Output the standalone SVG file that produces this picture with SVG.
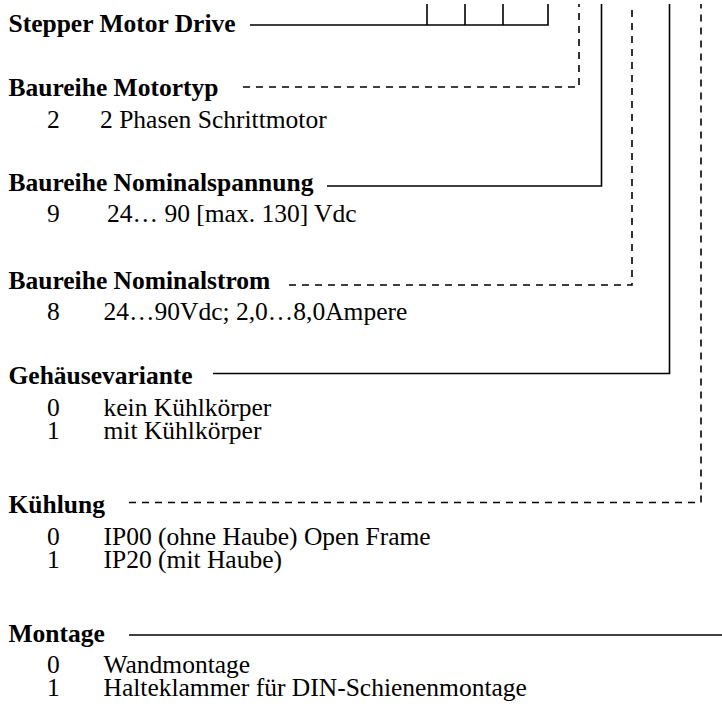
<svg xmlns="http://www.w3.org/2000/svg" width="722" height="709" viewBox="0 0 722 709">
<style>
text{font-family:"Liberation Serif","Times New Roman",serif;font-size:25.5px;fill:#000}
.h{font-weight:bold}
.s{fill:none;stroke:#000;stroke-width:1.6}
.d{fill:none;stroke:#000;stroke-width:1.6;stroke-dasharray:7 6}
</style>
<rect width="722" height="709" fill="#fff"/>
<g id="connectors">
<polyline class="s" points="250,25 548,25 548,4"/>
<line class="s" x1="427" y1="4" x2="427" y2="25"/>
<line class="s" x1="465" y1="4" x2="465" y2="25"/>
<line class="s" x1="503" y1="4" x2="503" y2="25"/>
<polyline class="d" points="243,87 579,87 579,4"/>
<polyline class="s" points="327,186 601.5,186 601.5,4"/>
<polyline class="d" points="289,285 632,285 632,4"/>
<polyline class="s" points="213,373.5 669.5,373.5 669.5,4"/>
<polyline class="d" points="129,502.5 701,502.5 701,4"/>
<line class="s" x1="129" y1="635" x2="722" y2="635"/>
</g>
<g id="stepper"><text class="h" x="8.5" y="32.3">Stepper Motor Drive</text></g>
<g id="motortyp">
<text class="h" x="8.5" y="95.7">Baureihe Motortyp</text>
<text x="47" y="127.7">2</text><text x="100" y="127.7">2 Phasen Schrittmotor</text>
</g>
<g id="nominalspannung">
<text class="h" x="8.5" y="190.7">Baureihe Nominalspannung</text>
<text x="47" y="221.7">9</text><text x="107" y="221.7">24… 90 [max. 130] Vdc</text>
</g>
<g id="nominalstrom">
<text class="h" x="8.5" y="289">Baureihe Nominalstrom</text>
<text x="47" y="320">8</text><text x="103.5" y="320">24…90Vdc; 2,0…8,0Ampere</text>
</g>
<g id="gehaeuse">
<text class="h" x="8.5" y="384">Gehäusevariante</text>
<text x="47" y="415.7">0</text><text x="103.5" y="415.7">kein Kühlkörper</text>
<text x="47" y="439">1</text><text x="103.5" y="439">mit Kühlkörper</text>
</g>
<g id="kuehlung">
<text class="h" x="8.5" y="513.3">Kühlung</text>
<text x="47" y="545">0</text><text x="103.5" y="545">IP00 (ohne Haube) Open Frame</text>
<text x="47" y="567.5">1</text><text x="103.5" y="567.5">IP20 (mit Haube)</text>
</g>
<g id="montage">
<text class="h" x="8.5" y="641.7">Montage</text>
<text x="47" y="672.7">0</text><text x="103.5" y="672.7">Wandmontage</text>
<text x="47" y="696">1</text><text x="103.5" y="696">Halteklammer für DIN-Schienenmontage</text>
</g>
</svg>
